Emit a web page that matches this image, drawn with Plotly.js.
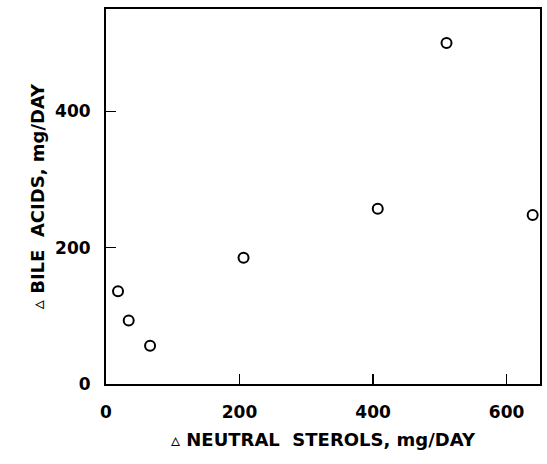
<!DOCTYPE html>
<html>
<head>
<meta charset="utf-8">
<script src="https://cdn.plot.ly/plotly-3.0.1.min.js"></script>
<style>html,body{margin:0;padding:0;background:#fff;}#chart{width:547px;height:464px;}</style>
</head>
<body>
<div id="chart"></div>
<script>
// Data
const neutralSterols = [18, 34, 66, 206, 407, 510, 639];   // Δ neutral sterols, mg/day
const bileAcids      = [136, 93, 56, 185, 257, 500, 248];  // Δ bile acids, mg/day
const xTicks = [0, 200, 400, 600];
const yTicks = [0, 200, 400];
const xTitle = "\u00A0\u00A0\u00A0\u00A0\u25B5 NEUTRAL\u00A0\u00A0STEROLS,\u00A0mg/DAY";
const yTitle = "\u25B5 BILE\u00A0\u00A0ACIDS,\u00A0mg/DAY\u00A0\u00A0\u00A0";

const fam = "DejaVu Sans, Liberation Sans, Arial, sans-serif";

const trace = {
  x: neutralSterols,
  y: bileAcids,
  mode: "markers",
  type: "scatter",
  marker: {symbol: "circle-open", size: 10, color: "#000", line: {width: 2, color: "#000"}},
  hoverinfo: "x+y"
};

const axisCommon = {
  ticks: "inside", ticklen: 10, tickwidth: 1.5, tickcolor: "#000",
  showline: true, linecolor: "#000", linewidth: 2, mirror: true,
  showgrid: false, zeroline: false,
  tickfont: {family: fam, size: 17, color: "#000", weight: "bold"}
};

const layout = {
  width: 547, height: 464,
  margin: {l: 106, r: 7, t: 9, b: 80},
  paper_bgcolor: "#fff", plot_bgcolor: "#fff",
  showlegend: false,
  font: {family: fam, color: "#000"},
  xaxis: Object.assign({}, axisCommon, {
    range: [0, 650], tickvals: xTicks, ticktext: xTicks.map(String),
    ticklabelstandoff: 12,
    title: {text: xTitle, font: {family: fam, size: 18, color: "#000", weight: "bold"}, standoff: 12}
  }),
  yaxis: Object.assign({}, axisCommon, {
    range: [0, 550], tickvals: yTicks, ticktext: yTicks.map(String),
    ticklabelstandoff: 10,
    title: {text: yTitle, font: {family: fam, size: 18, color: "#000", weight: "bold"}, standoff: 6}
  })
};

Plotly.newPlot("chart", [trace], layout, {staticPlot: true, displayModeBar: false});
</script>
</body>
</html>
